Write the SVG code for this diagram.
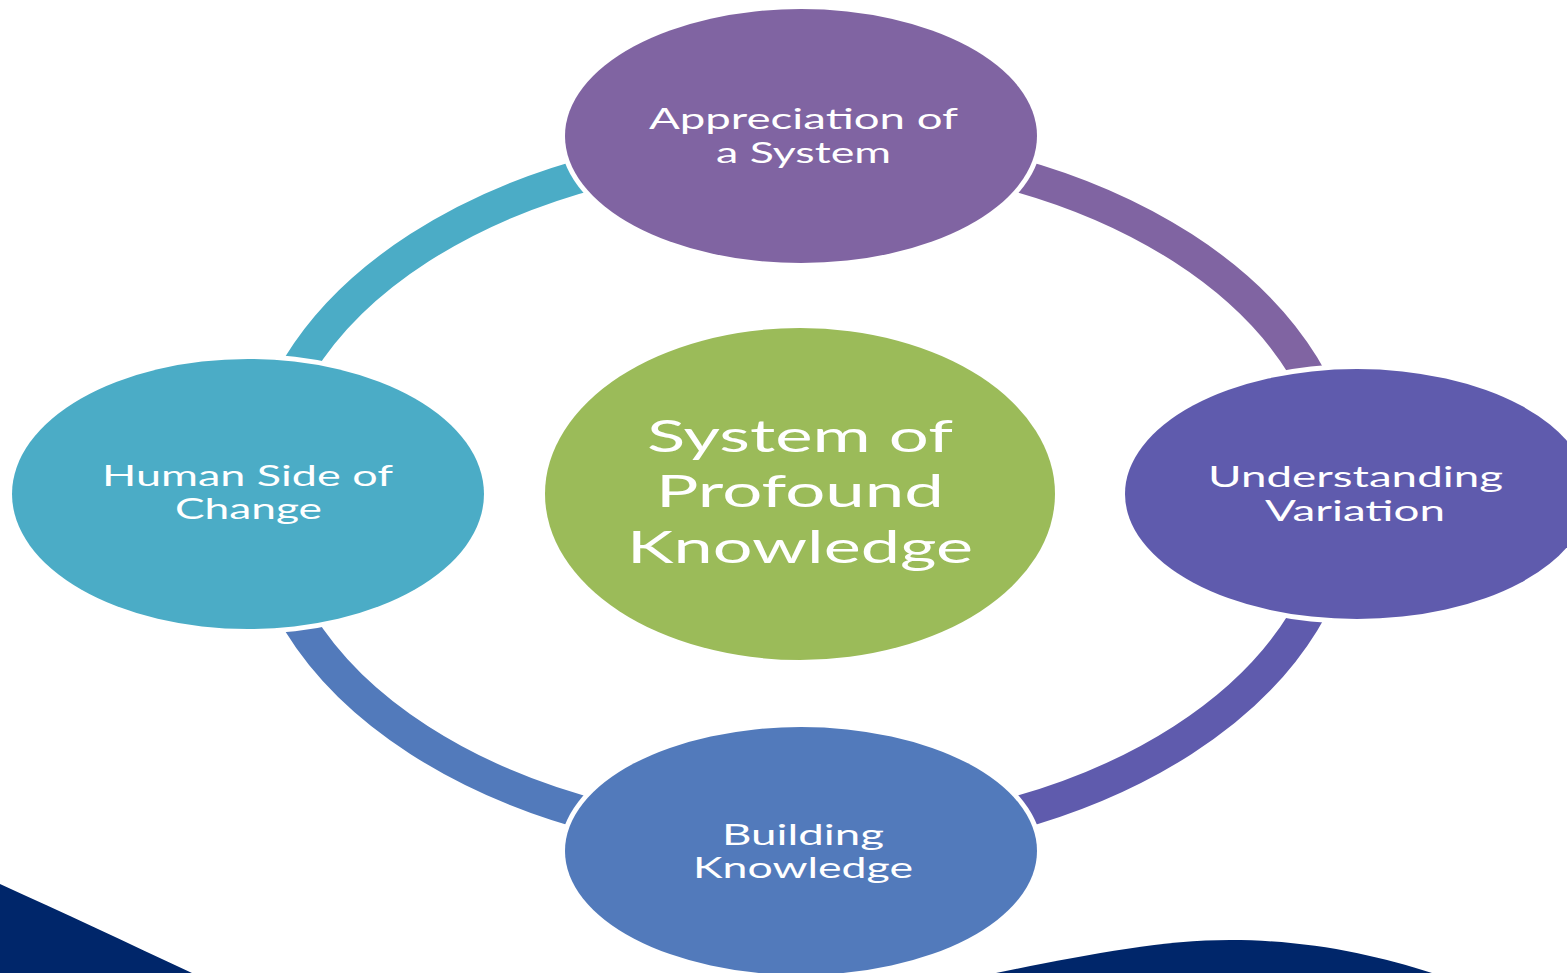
<svg xmlns="http://www.w3.org/2000/svg" width="1567" height="973" viewBox="0 0 1567 973">
<style>
.ring{fill:none;stroke-width:33}
.halo{fill:#fff}
.lbl{font-family:Lato,"Open Sans","Liberation Sans",sans-serif;fill:#fff;font-size:29px}
.big{font-size:44px}
</style>
<rect width="1567" height="973" fill="#fff"/>
<g id="background">
<path d="M0,884 C62,912 128,943 192,973 L0,973 Z" fill="#00266A"/>
<path d="M996,973 C1080,956 1160,940 1230,940 C1310,940 1375,955 1432,973 Z" fill="#00266A"/>
</g>
<g id="connectors">
<path class="ring" stroke="#8064A2" d="M801,146 A540,348 0 0 1 1341,494"/>
<path class="ring" stroke="#5F5BAD" d="M1341,494 A540,348 0 0 1 801,842"/>
<path class="ring" stroke="#527ABB" d="M801,842 A540,348 0 0 1 261,494"/>
<path class="ring" stroke="#4BACC6" d="M261,494 A540,348 0 0 1 801,146"/>
</g>
<g id="node-appreciation">
<ellipse class="halo" cx="801" cy="136" rx="241" ry="132"/>
<ellipse cx="801" cy="136" rx="236" ry="127" fill="#8064A2"/>
<text class="lbl" x="649" y="129" textLength="309" lengthAdjust="spacingAndGlyphs">Appreciation of</text>
<text class="lbl" x="716" y="163" textLength="175" lengthAdjust="spacingAndGlyphs">a System</text>
</g>
<g id="node-variation">
<ellipse class="halo" cx="1357" cy="494" rx="237" ry="130"/>
<ellipse cx="1357" cy="494" rx="232" ry="125" fill="#5F5BAD"/>
<text class="lbl" x="1208" y="487" textLength="295" lengthAdjust="spacingAndGlyphs">Understanding</text>
<text class="lbl" x="1265" y="521" textLength="180" lengthAdjust="spacingAndGlyphs">Variation</text>
</g>
<g id="node-building">
<ellipse class="halo" cx="801" cy="851" rx="241" ry="129"/>
<ellipse cx="801" cy="851" rx="236" ry="124" fill="#527ABB"/>
<text class="lbl" x="722" y="845" textLength="162" lengthAdjust="spacingAndGlyphs">Building</text>
<text class="lbl" x="693" y="878" textLength="220" lengthAdjust="spacingAndGlyphs">Knowledge</text>
</g>
<g id="node-human">
<ellipse class="halo" cx="248" cy="494" rx="241" ry="140"/>
<ellipse cx="248" cy="494" rx="236" ry="135" fill="#4BACC6"/>
<text class="lbl" x="102" y="486" textLength="291" lengthAdjust="spacingAndGlyphs">Human Side of</text>
<text class="lbl" x="175" y="519" textLength="147" lengthAdjust="spacingAndGlyphs">Change</text>
</g>
<g id="node-center">
<ellipse cx="800" cy="494" rx="255" ry="166" fill="#9BBB59"/>
<text class="lbl big" x="647" y="452" textLength="306" lengthAdjust="spacingAndGlyphs">System of</text>
<text class="lbl big" x="656" y="507" textLength="288" lengthAdjust="spacingAndGlyphs">Profound</text>
<text class="lbl big" x="627" y="563" textLength="346" lengthAdjust="spacingAndGlyphs">Knowledge</text>
</g>
</svg>
